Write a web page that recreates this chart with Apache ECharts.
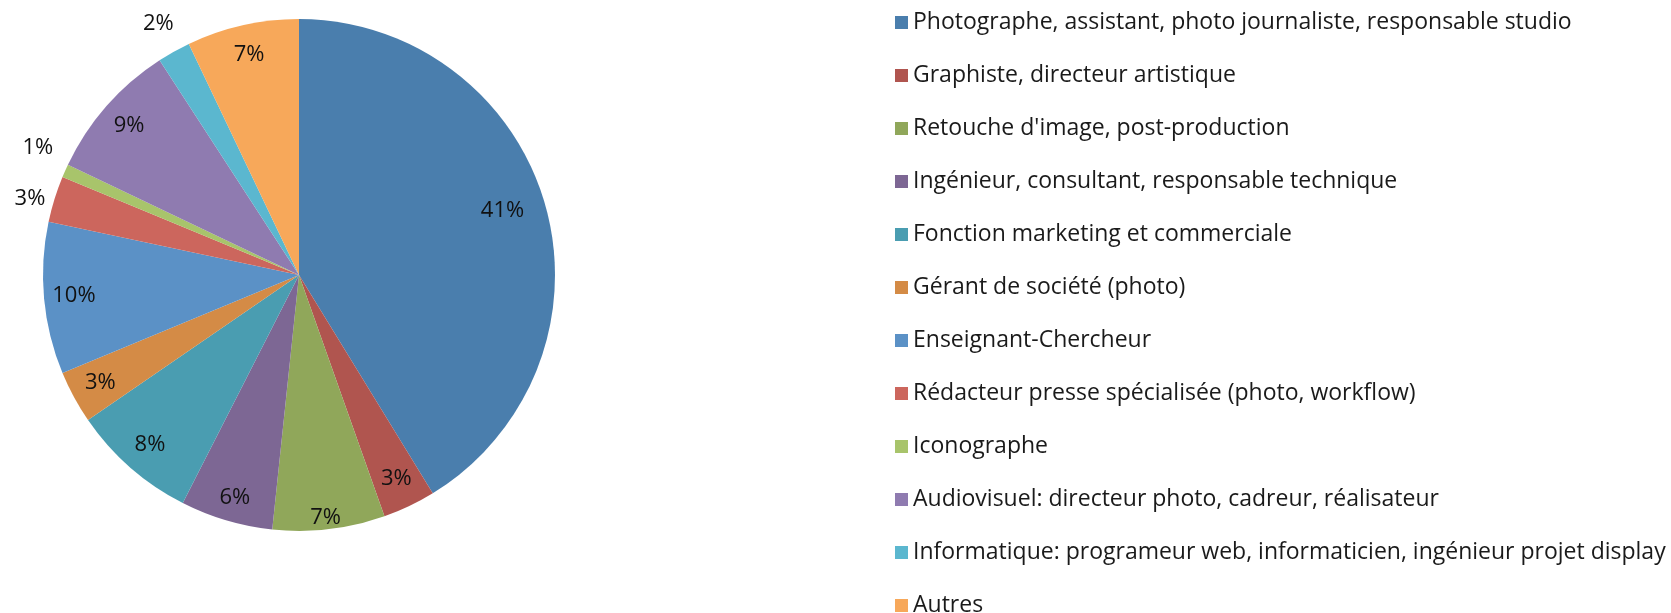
<!DOCTYPE html>
<html>
<head>
<meta charset="utf-8">
<script src="https://cdn.jsdelivr.net/npm/echarts@6/dist/echarts.min.js"></script>
<style>
  html, body { margin: 0; padding: 0; background: #fff; }
  #main { width: 1671px; height: 613px; }
</style>
</head>
<body>
<div id="main"></div>
<script>
// catégories et valeurs
const categories = [
  'Photographe, assistant, photo journaliste, responsable studio',
  'Graphiste, directeur artistique',
  "Retouche d'image, post-production",
  'Ingénieur, consultant, responsable technique',
  'Fonction marketing et commerciale',
  'Gérant de société (photo)',
  'Enseignant-Chercheur',
  'Rédacteur presse spécialisée (photo, workflow)',
  'Iconographe',
  'Audiovisuel: directeur photo, cadreur, réalisateur',
  'Informatique: programeur web, informaticien, ingénieur projet display',
  'Autres'
];
const values = [99, 8, 17, 14, 19, 8, 23, 7, 2, 21, 5, 17];
const colors = ['#4a7ead', '#b0554f', '#90a75a', '#7d6794', '#4a9db1', '#d48b46',
  '#5b91c6', '#cc665d', '#a8c46b', '#8f7bb0', '#5bb7cf', '#f7a85a'];
// étiquettes placées à l'extérieur
const outsideLabels = ['Rédacteur presse spécialisée (photo, workflow)', 'Iconographe',
  'Informatique: programeur web, informaticien, ingénieur projet display'];
// petits décalages pour imiter le placement "meilleur ajustement" d'Excel
const labelNudge = {
  'Photographe, assistant, photo journaliste, responsable studio': [-14, -3],
  "Retouche d'image, post-production": [0, 18],
  'Ingénieur, consultant, responsable technique': [0, 6],
  'Rédacteur presse spécialisée (photo, workflow)': [6, 9],
  'Iconographe': [2, -10]
};

const FONT = 'Open Sans';
const CENTER = [299, 275];
const R = 256;

const chart = echarts.init(document.getElementById('main'));

const pctLabel = function (p) { return Math.round(p.percent) + '%'; };

function labelItems(outside) {
  return categories.map((c, i) => {
    const isOut = outsideLabels.indexOf(c) >= 0;
    const lab = { show: outside ? isOut : !isOut };
    if (labelNudge[c]) lab.offset = labelNudge[c];
    return { name: c, value: values[i], label: lab };
  });
}

const option = {
  animation: false,
  color: colors,
  legend: {
    orient: 'vertical',
    left: 890,
    top: 6,
    height: 640,
    icon: 'rect',
    itemWidth: 13,
    itemHeight: 13,
    itemGap: 30,
    data: categories,
    textStyle: {
      fontFamily: FONT,
      fontSize: 23,
      lineHeight: 22,
      color: '#1a1a1a',
      padding: [0, 0, 0, 0]
    }
  },
  series: [
    {
      // le camembert
      type: 'pie',
      center: CENTER,
      radius: [0, R],
      startAngle: 90,
      clockwise: true,
      silent: true,
      label: { show: false },
      labelLine: { show: false },
      data: categories.map((c, i) => ({ name: c, value: values[i] }))
    },
    {
      // étiquettes intérieures
      type: 'pie',
      center: CENTER,
      radius: [190, R],
      startAngle: 90,
      silent: true,
      itemStyle: { color: 'rgba(0,0,0,0)' },
      label: {
        position: 'inside',
        formatter: pctLabel,
        fontFamily: FONT,
        fontSize: 22,
        color: '#111'
      },
      labelLine: { show: false },
      data: labelItems(false)
    },
    {
      // étiquettes extérieures
      type: 'pie',
      center: CENTER,
      radius: [270, 300],
      startAngle: 90,
      silent: true,
      itemStyle: { color: 'rgba(0,0,0,0)' },
      label: {
        position: 'inside',
        formatter: pctLabel,
        fontFamily: FONT,
        fontSize: 22,
        color: '#111'
      },
      labelLine: { show: false },
      data: labelItems(true)
    }
  ]
};

chart.setOption(option);
</script>
</body>
</html>
